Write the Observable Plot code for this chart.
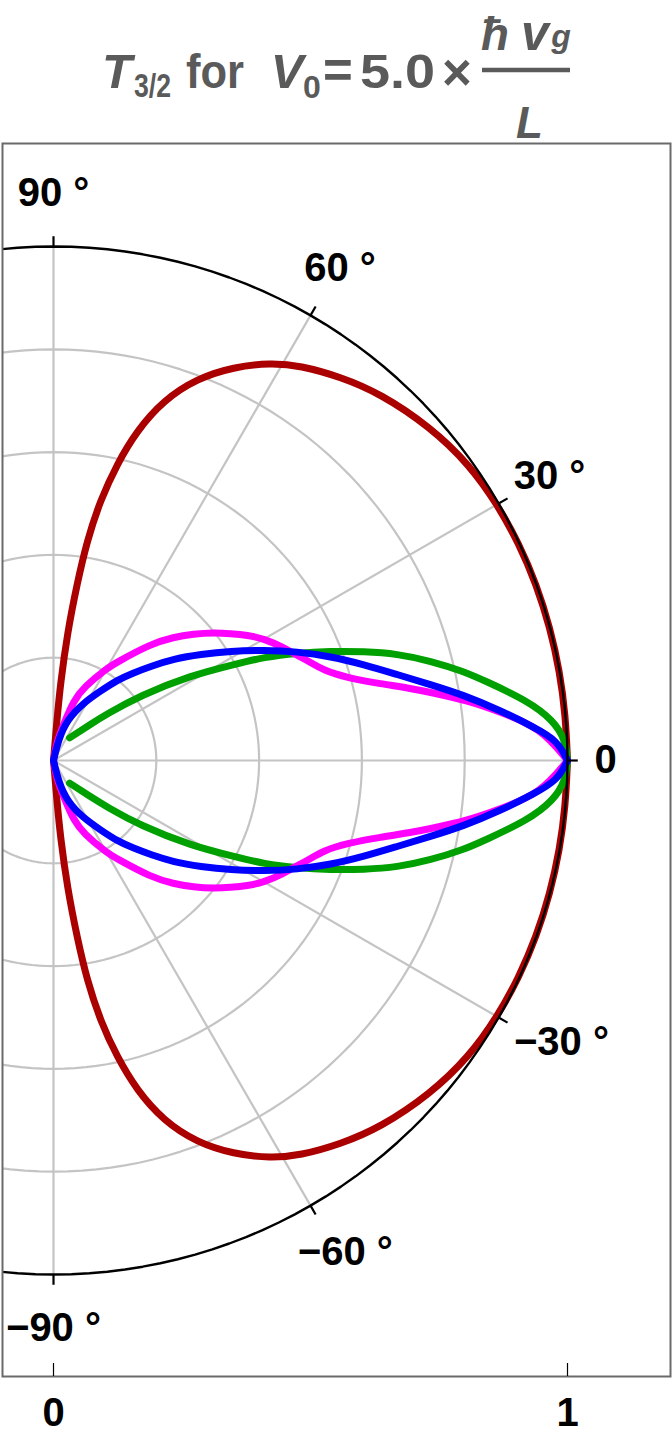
<!DOCTYPE html>
<html>
<head>
<meta charset="utf-8">
<script src="https://cdn.jsdelivr.net/npm/d3@7"></script>
<script src="https://cdn.jsdelivr.net/npm/@observablehq/plot@0.6"></script>
<style>
  html, body { margin: 0; padding: 0; background: #fff; }
  #title { width: 672px; height: 142px; }
  #title svg { display: block; overflow: visible; }
  #chart svg { display: block; }
</style>
</head>
<body>
<div id="title"></div>
<div id="chart"></div>
<script>
// ---------------- data (angle in degrees, r = transmission T) ----------------
const redAngles = [-86, -85.1, -84.8, -83.8, -82.4, -81.3, -79.8, -77.9, -75.8, -73, -69.4, -65.4, -61.4, -58, -53.2, -48.3, -41.5, -35.4, -30, -25, -20, -15, -10, -5, 0, 5, 10, 15, 20, 25, 30, 35.4, 41.5, 48.3, 53.2, 58, 61.4, 65.4, 69.4, 73, 75.8, 77.9, 79.8, 81.3, 82.4, 83.8, 84.8, 85.1, 86];
const redR      = [0, 0.085, 0.15, 0.248, 0.347, 0.433, 0.514, 0.59, 0.662, 0.733, 0.794, 0.842, 0.881, 0.906, 0.932, 0.956, 0.979, 0.993, 0.997, 0.999, 1, 1, 1, 1, 1, 1, 1, 1, 1, 0.999, 0.997, 0.993, 0.979, 0.956, 0.932, 0.906, 0.881, 0.842, 0.794, 0.733, 0.662, 0.59, 0.514, 0.433, 0.347, 0.248, 0.15, 0.085, 0];

const greenAngles = [-54.6, -45, -41, -36.8, -31.8, -27.9, -26.16, -23.8, -21.53, -19.35, -17.25, -14.78, -12.24, -10.53, -7.22, -4.57, -2.24, 0, 2.24, 4.57, 7.22, 10.53, 12.24, 14.78, 17.25, 19.35, 21.53, 23.8, 26.16, 27.9, 31.8, 36.8, 41, 45, 54.6];
const greenR      = [0.054, 0.096, 0.138, 0.211, 0.314, 0.401, 0.456, 0.518, 0.579, 0.64, 0.7, 0.759, 0.817, 0.852, 0.929, 0.976, 0.997, 1, 0.997, 0.976, 0.929, 0.852, 0.817, 0.759, 0.7, 0.64, 0.579, 0.518, 0.456, 0.401, 0.314, 0.211, 0.138, 0.096, 0.054];

const magentaAngles = [-90, -80.5, -74.3, -71.3, -67.5, -59.9, -57.1, -50.2, -45.75, -42.1, -38.6, -35.6, -32.9, -30.05, -26.1, -23.9, -21.5, -18.42, -15.73, -13.2, -11.25, -9.3, -8.05, -6.19, -3.82, 0, 3.82, 6.19, 8.05, 9.3, 11.25, 13.2, 15.73, 18.42, 21.5, 23.9, 26.1, 30.05, 32.9, 35.6, 38.6, 42.1, 45.75, 50.2, 57.1, 59.9, 67.5, 71.3, 74.3, 80.5, 90];
const magentaR      = [0, 0.035, 0.074, 0.123, 0.154, 0.208, 0.228, 0.295, 0.335, 0.367, 0.399, 0.424, 0.449, 0.473, 0.499, 0.512, 0.531, 0.554, 0.594, 0.653, 0.715, 0.776, 0.819, 0.875, 0.95, 1, 0.95, 0.875, 0.819, 0.776, 0.715, 0.653, 0.594, 0.554, 0.531, 0.512, 0.499, 0.473, 0.449, 0.424, 0.399, 0.367, 0.335, 0.295, 0.228, 0.208, 0.154, 0.123, 0.074, 0.035, 0];

const blueAngles = [-90, -76.6, -71.5, -62.4, -55.9, -51.6, -47.6, -44.1, -40.2, -35.8, -31.7, -27.7, -24.1, -20.58, -17.19, -14.05, -11.4, -9.07, -6.38, -3.97, -2.27, 0, 2.27, 3.97, 6.38, 9.07, 11.4, 14.05, 17.19, 20.58, 24.1, 27.7, 31.7, 35.8, 40.2, 44.1, 47.6, 51.6, 55.9, 62.4, 71.5, 76.6, 90];
const blueR      = [0, 0.042, 0.084, 0.127, 0.163, 0.2, 0.231, 0.263, 0.306, 0.353, 0.405, 0.462, 0.519, 0.576, 0.632, 0.689, 0.748, 0.808, 0.875, 0.937, 0.981, 1, 0.981, 0.937, 0.875, 0.808, 0.748, 0.689, 0.632, 0.576, 0.519, 0.462, 0.405, 0.353, 0.306, 0.263, 0.231, 0.2, 0.163, 0.127, 0.084, 0.042, 0];

const gridRadii   = [0.2, 0.4, 0.6, 0.8];
const spokeAngles = [-90, -60, -30, 0, 30, 60, 90];
const angleTicks  = [-90, -60, -30, 0, 30, 60, 90];
const angleLabels = ["−90 °", "−60 °", "−30 °", "0", "30 °", "60 °", "90 °"];
const xTicks      = [0, 1];
const xTickLabels = ["0", "1"];

// ---------------- layout ----------------
const W = 672, TITLE_H = 142, H = 1440 - TITLE_H;
const mT = 1, mB = 64, mL = 2, mR = 2;
const unit = 514;                   // pixels per unit radius
const cx = 53, cy = 760 - TITLE_H;  // polar origin in svg pixels
const xDomain = [(mL - cx) / unit, (W - mR - cx) / unit];
const yDomain = [(cy - (H - mB)) / unit, (cy - mT) / unit];

const FONT = "'Liberation Sans', Arial, Helvetica, sans-serif";
const deg = Math.PI / 180;
const px = d => d.r * Math.cos(d.a * deg);
const py = d => d.r * Math.sin(d.a * deg);

// each curve is drawn as two branches (θ ≤ 0 and θ ≥ 0) meeting at θ = 0
const rows = (angles, rs) => {
  const all = angles.map((a, i) => ({a, r: rs[i]}));
  return [
    ...all.filter(d => d.a <= 0).map(d => ({...d, half: "lower"})),
    ...all.filter(d => d.a >= 0).map(d => ({...d, half: "upper"}))
  ];
};
const red = rows(redAngles, redR);
const green = rows(greenAngles, greenR);
const magenta = rows(magentaAngles, magentaR);
const blue = rows(blueAngles, blueR);

const circleRows = radii => radii.flatMap(r => d3.range(0, 361, 2).map(a => ({a, r})));

const labelPlace = a => {
  const over = {"0": [0, 1.074], "-30": [-29, 1.13], "-60": [-59.3, 1.112], "30": [29.8, 1.112], "60": [59.8, 1.108]};
  return over[String(a)] || [a, 1.104];
};

const lineOpts = (stroke) => ({x: px, y: py, z: "half", stroke, strokeWidth: 7, curve: "basis", strokeLinejoin: "round", strokeLinecap: "round"});

const chart = Plot.plot({
  width: W,
  height: H,
  marginTop: mT, marginBottom: mB, marginLeft: mL, marginRight: mR,
  x: {domain: xDomain, axis: null},
  y: {domain: yDomain, axis: null},
  style: {fontFamily: FONT, background: "white"},
  marks: [
    Plot.line(circleRows(gridRadii), {x: px, y: py, z: "r", stroke: "#c4c4c4", strokeWidth: 2.2, clip: true}),
    Plot.link(spokeAngles, {x1: 0, y1: 0, x2: a => Math.cos(a * deg), y2: a => Math.sin(a * deg), stroke: "#c4c4c4", strokeWidth: 2.2}),
    Plot.line(red, lineOpts("#aa0000")),
    Plot.line(green, lineOpts("#00a000")),
    Plot.line(magenta, lineOpts("#ff00ff")),
    Plot.line(blue, lineOpts("#0000ff")),
    Plot.line(circleRows([1]), {x: px, y: py, stroke: "black", strokeWidth: 2.4, clip: true}),
    Plot.link(angleTicks, {x1: a => Math.cos(a * deg), y1: a => Math.sin(a * deg), x2: a => 1.02 * Math.cos(a * deg), y2: a => 1.02 * Math.sin(a * deg), stroke: "black", strokeWidth: 2.2}),
    Plot.text(angleTicks, {
      x: a => labelPlace(a)[1] * Math.cos(labelPlace(a)[0] * deg),
      y: a => labelPlace(a)[1] * Math.sin(labelPlace(a)[0] * deg),
      text: (a, i) => angleLabels[i],
      fontSize: 40, fontWeight: "bold", fill: "black", textAnchor: "middle", lineAnchor: "middle"
    }),
    Plot.frame({stroke: "#6a6a6a", strokeWidth: 2}),
    Plot.ruleX(xTicks, {x: d => d, y1: yDomain[0], y2: yDomain[0] + 13 / unit, stroke: "black", strokeWidth: 1.2}),
    Plot.text(xTicks, {x: d => d, text: (d, i) => xTickLabels[i], frameAnchor: "bottom", dy: 37, lineAnchor: "middle", fontSize: 40, fontWeight: "bold", fill: "black"})
  ]
});
document.getElementById("chart").appendChild(chart);

// ---------------- title ----------------
const tc = "#5a5a5a";
document.getElementById("title").innerHTML = `
<svg width="672" height="142" xmlns="http://www.w3.org/2000/svg" font-family="Liberation Sans, Arial, sans-serif" font-weight="bold" fill="${tc}">
  <text x="117" y="88" font-size="49" font-style="italic" text-anchor="middle">T</text>
  <text x="134" y="97" font-size="33" textLength="37" lengthAdjust="spacingAndGlyphs">3/2</text>
  <text x="186" y="88" font-size="48" textLength="58" lengthAdjust="spacingAndGlyphs">for</text>
  <text x="287" y="88" font-size="49" font-style="italic" text-anchor="middle">V</text>
  <text x="312" y="98" font-size="32" text-anchor="middle">0</text>
  <text x="338" y="88" font-size="51" text-anchor="middle">=</text>
  <text x="360" y="88" font-size="48" textLength="75" lengthAdjust="spacingAndGlyphs">5.0</text>
  <text x="457" y="90" font-size="51" text-anchor="middle">×</text>
  <line x1="482" x2="570" y1="70" y2="70" stroke="${tc}" stroke-width="4.5"/>
  <text x="495" y="50" font-size="46" font-style="italic" text-anchor="middle">ħ</text>
  <text x="535" y="50" font-size="50" font-style="italic" text-anchor="middle">v</text>
  <text x="561" y="47" font-size="32" font-style="italic" text-anchor="middle">g</text>
  <text x="529.5" y="138" font-size="44" font-style="italic" text-anchor="middle">L</text>
</svg>`;
</script>
</body>
</html>
